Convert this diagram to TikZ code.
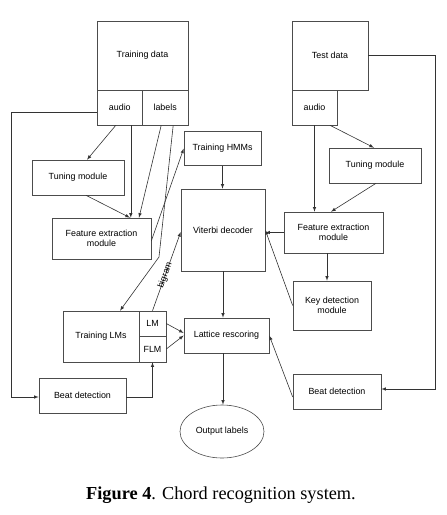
\documentclass[tikz,border=0pt]{standalone}
\usepackage{fontspec}
\setmainfont{Liberation Serif}
\newfontfamily\boxfont{Liberation Sans}
\usetikzlibrary{shapes.geometric}

\begin{document}
\begin{tikzpicture}[x=1pt,y=-1pt,
    blk/.style={draw=black!70,line width=0.6pt,inner sep=1pt,align=center,
      font=\boxfont\fontsize{8.9}{10.5}\selectfont},
    conn/.style={-latex,draw=black!80,line width=0.6pt}]
  \useasboundingbox (0,0) rectangle (447,515);
  % training side
  \node[blk,minimum width=91pt,minimum height=69pt] (tdata) at (142.5,55.5) {Training data};
  \node[blk,minimum width=45.5pt,minimum height=35pt] (taudio) at (119.8,107.5) {audio};
  \node[blk,minimum width=45.5pt,minimum height=35pt] (tlabels) at (165.2,107.5) {labels};
  \node[blk,minimum width=92pt,minimum height=35pt] (tuneL) at (78,177.5) {Tuning module};
  \node[blk,minimum width=99pt,minimum height=41pt] (featL) at (101.5,238.5) {Feature extraction\\module};
  \node[blk,minimum width=77pt,minimum height=34pt] (hmm) at (222.5,148.5) {Training HMMs};
  \node[blk,minimum width=84pt,minimum height=82pt] (viterbi) at (223,230) {Viterbi decoder};
  \node[blk,minimum width=85pt,minimum height=35pt] (lattice) at (226.5,335.5) {Lattice rescoring};
  \node[blk,minimum width=76pt,minimum height=51pt] (lms) at (101,336.5) {Training LMs};
  \node[blk,minimum width=27pt,minimum height=25pt] (lm) at (152.5,323.5) {LM};
  \node[blk,minimum width=27pt,minimum height=26pt] (flm) at (152.5,349) {FLM};
  \node[blk,minimum width=87pt,minimum height=35pt] (beatL) at (82.5,395.5) {Beat detection};
  \node[blk,ellipse,minimum width=84pt,minimum height=53pt] (output) at (222,431.5) {Output labels};
  % test side
  \node[blk,minimum width=76pt,minimum height=69pt] (testdata) at (330,55.5) {Test data};
  \node[blk,minimum width=45pt,minimum height=35pt] (testaudio) at (314.5,107.5) {audio};
  \node[blk,minimum width=92pt,minimum height=35pt] (tuneR) at (375,165.5) {Tuning module};
  \node[blk,minimum width=99pt,minimum height=41pt] (featR) at (333.5,232.5) {Feature extraction\\module};
  \node[blk,minimum width=78pt,minimum height=49pt] (keydet) at (332,305.5) {Key detection\\module};
  \node[blk,minimum width=88pt,minimum height=35pt] (beatR) at (337,391.5) {Beat detection};
  \node[anchor=base,font=\fontsize{18.3}{20}\selectfont] (caption) at (221,499)
    {\textbf{Figure 4}. Chord recognition system.};

  \draw[conn] ([xshift=-4pt]taudio.south) -- ([xshift=9pt]tuneL.north);
  \draw[conn] ([xshift=11pt]taudio.south) -- ([xshift=11pt]taudio.south |- featL.north);
  \draw[conn] ([xshift=-4pt]tlabels.south) -- ([xshift=37.5pt]featL.north);
  \draw[conn] ([xshift=8pt]tuneL.south) -- ([xshift=28.5pt]featL.north);
  \coordinate (bend) at (159,257);
  \draw[conn] ([xshift=8pt]tlabels.south) -- (bend) -- ([xshift=19pt]lms.north);
  \draw[conn] ([yshift=-2.5pt]featL.east) -- (hmm.west);
  \draw[conn] (hmm.south) -- (hmm.south |- viterbi.north);
  \draw[conn] (viterbi.south) -- (viterbi.south |- lattice.north);
  \draw[conn] (viterbi.south |- lattice.south) -- (viterbi.south |- output.north);
  \draw[conn] (featR.west) -- (featR.west -| viterbi.east);
  \draw[conn] (keydet.west) -- (viterbi.east);
  \draw[conn] (testaudio.south) -- (testaudio.south |- featR.north);
  \draw[conn] ([xshift=15.5pt]testaudio.south) -- ([xshift=-1pt]tuneR.north);
  \draw[conn] ([xshift=1pt]tuneR.south) -- ([xshift=-2.5pt]featR.north);
  \draw[conn] ([xshift=-6.5pt]featR.south) -- ([xshift=-6.5pt]featR.south |- keydet.north);
  \draw[conn] (testdata.east) -- ++(67,0) |- ([yshift=2.5pt]beatR.east);
  \draw[conn] ([yshift=-5.5pt]beatR.west) -- (lattice.east);
  \draw[conn] ([yshift=-4.5pt]taudio.west) -- ++(-85,0) |- ([yshift=-1.5pt]beatL.west);
  \draw[conn] ([yshift=-1.5pt]beatL.east) -| (flm.south);
  \draw[conn] (lm.east) -- ([yshift=2.5pt]lattice.west);
  \draw[conn] (flm.east) -- (lattice.west);
  \draw[conn] (lm.north) -- node[sloped,pos=0.45,inner sep=0pt,
      font=\boxfont\fontsize{8.9}{10}\selectfont] {bigram} ([yshift=-2pt]viterbi.west);
\end{tikzpicture}
\end{document}
